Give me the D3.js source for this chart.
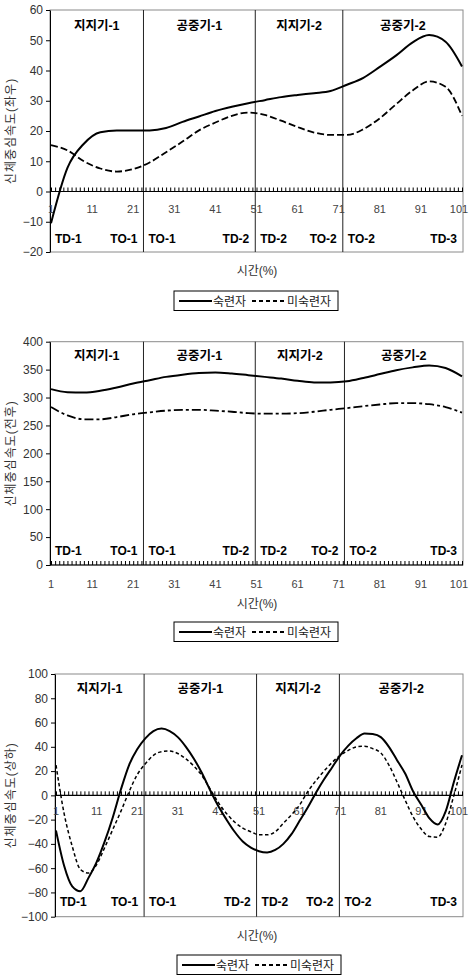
<!DOCTYPE html>
<html><head><meta charset="utf-8">
<script src="https://cdn.jsdelivr.net/npm/d3@7"></script>
<style>
body{margin:0;background:#fff}
svg{display:block}
text{font-family:"Liberation Sans","Noto Sans CJK KR",sans-serif}
</style>
</head><body>
<svg id="c" width="470" height="976"></svg>
<script>
// ---------- data ----------
const timesCoarse = [1,5,9,13,17,21,25,29,33,37,41,45,49,53,57,61,65,69,73,77,81,85,89,93,97,101];
const timesFine = [1,3,5,7,9,11,13,15,17,19,21,23,25,27,29,31,33,35,37,39,41,43,45,47,49,51,
  53,55,57,59,61,63,65,67,69,71,73,75,77,79,81,83,85,87,89,91,93,95,97,99,101];
const xTickLabels = [1,11,21,31,41,51,61,71,81,91,101];
const seriesNames = ["숙련자","미숙련자"];
const phaseNames = ["지지기-1","공중기-1","지지기-2","공중기-2"];
const eventStart = ["TD-1","TO-1","TD-2","TO-2"];
const eventEnd = ["TO-1","TD-2","TO-2","TD-3"];

// 좌우
const lrExpert = [-10.5,7.8,15.8,19.6,20.2,20.2,20.2,21.0,23.0,24.8,26.6,28.0,29.2,30.2,31.2,31.9,32.5,33.2,35.3,37.6,41.2,45.0,49.3,51.7,49.5,41.3];
const lrNovice = [15.3,13.6,10.0,7.6,6.6,7.4,9.6,13.0,16.5,20.2,22.8,25.0,26.1,25.3,23.4,21.3,19.5,18.7,18.7,20.6,24.2,28.9,33.4,36.4,34.6,25];
const lrTicks = [-20,-10,0,10,20,30,40,50,60];
const lrPhases = [23.5,50.7,72];

// 전후
const apExpert = [315,309.5,308.8,312,318,325,331,337,341,344,345,343,340,337,334,330,327,327,329,335,342,349,354,357.5,353,338];
const apNovice = [283,268,261,261,265,270,273.5,276.5,278,278,276.5,274.5,272,271,271,272,274.5,278,281,284.5,287.5,290,290,288,283,273];
const apTicks = [0,50,100,150,200,250,300,350,400];
const apPhases = [23.5,50.7,72.4];

// 상하
const vtExpert = [-29,-58,-75,-79,-68,-55,-38,-18,5,25,
  38,47,53,55,53,48,40,30,18,4,
  -9,-20,-30,-38,-43,-46,-47,-45,-40,-32,
  -21,-10,2,13,23,33,41,47,51,50.5,
  48,40,29,18,3,-8,-19,-24,-13,11,
  33];
const vtNovice = [25,-15,-42,-61,-64,-57,-43,-28,-13,3,
  17,26,33,36,36.5,34.5,30,24,16,5,
  -6,-15,-22,-27,-30,-32.5,-32.5,-30,-23,-16,
  -8,3,12,20,27,33,37,40,40.5,38.5,
  35,25,11,-4,-18,-28,-34,-34.5,-23,0,
  25];
const vtTicks = [-100,-80,-60,-40,-20,0,20,40,60,80,100];
const vtPhases = [22.7,50.4,70.8];

// ---------- layout ----------
const charts = [
  {times:timesCoarse, a:lrExpert, b:lrNovice, ticks:lrTicks, phases:lrPhases, title:"신체중심속도(좌우)",
   top:10, bottom:252, left:50, right:463, x0:51, x1:462, dash:"7,3", dashW:1.8,
   tickLabOff:21.5, phaseLabOff:19.5, eventLabOff:-9.5, xTitleY:274.5, legend:[174,291]},
  {times:timesCoarse, a:apExpert, b:apNovice, ticks:apTicks, phases:apPhases, title:"신체중심속도(전후)",
   top:341.7, bottom:565, left:50, right:463, x0:51, x1:462, dash:"9,3,3,3", dashW:1.8,
   tickLabOff:23, phaseLabOff:18.5, eventLabOff:-10.5, xTitleY:607.5, legend:[174,622]},
  {times:timesFine, a:vtExpert, b:vtNovice, ticks:vtTicks, phases:vtPhases, title:"신체중심속도(상하)",
   top:674, bottom:916.7, left:55, right:463, x0:56, x1:462, dash:"3.5,2.5", dashW:1.5,
   tickLabOff:20, phaseLabOff:19, eventLabOff:-10.5, xTitleY:939.5, legend:[177,955]}
];

const svg = d3.select("#c");

charts.forEach(cfg => {
  const g = svg.append("g");
  const x = d3.scaleLinear().domain([1,101]).range([cfg.x0, cfg.x1]);
  const y = d3.scaleLinear().domain(d3.extent(cfg.ticks)).range([cfg.bottom, cfg.top]);

  g.append("rect").attr("x",cfg.left).attr("y",cfg.top)
    .attr("width",cfg.right-cfg.left).attr("height",cfg.bottom-cfg.top)
    .attr("fill","none").attr("stroke","#8a8a8a").attr("stroke-width",1);

  g.selectAll(".ph").data(cfg.phases).join("line")
    .attr("x1",d=>x(d)).attr("x2",d=>x(d)).attr("y1",cfg.top).attr("y2",cfg.bottom)
    .attr("stroke","#222").attr("stroke-width",1);

  const ya = g.append("g").attr("transform",`translate(${cfg.left},0)`)
    .call(d3.axisLeft(y).tickValues(cfg.ticks).tickSize(4).tickPadding(3).tickSizeOuter(0));
  ya.select(".domain").attr("stroke","#000");
  ya.selectAll("line").attr("stroke","#000");
  ya.selectAll("text").attr("font-size",12).attr("fill","#333")
    .attr("font-family",'"Liberation Sans",sans-serif');

  const y0 = y(0);
  const xa = g.append("g").attr("transform",`translate(0,${y0})`)
    .call(d3.axisTop(x).tickValues(d3.range(1,102)).tickSize(4).tickFormat("").tickSizeOuter(0));
  xa.select(".domain").remove();
  xa.selectAll("line").attr("stroke","#000").attr("stroke-width",1);
  g.append("line").attr("x1",cfg.left).attr("x2",cfg.right).attr("y1",y0).attr("y2",y0)
    .attr("stroke","#000").attr("stroke-width",1.2);

  g.selectAll(".xt").data(xTickLabels).join("text")
    .attr("x",d=>Math.min(x(d), 459)).attr("y",y0+cfg.tickLabOff).attr("text-anchor","middle")
    .attr("font-size",11).attr("fill","#444").text(d=>d);

  const line = d3.line().x((d,i)=>x(cfg.times[i])).y(d=>y(d)).curve(d3.curveMonotoneX);
  g.append("path").attr("d",line(cfg.a)).attr("fill","none").attr("stroke","#000").attr("stroke-width",2);
  g.append("path").attr("d",line(cfg.b)).attr("fill","none").attr("stroke","#000")
    .attr("stroke-width",cfg.dashW).attr("stroke-dasharray",cfg.dash);

  const bounds = [cfg.left, ...cfg.phases.map(p=>x(p)), cfg.right];
  phaseNames.forEach((n,i)=>{
    g.append("text").attr("x",(bounds[i]+bounds[i+1])/2).attr("y",cfg.top+cfg.phaseLabOff)
      .attr("text-anchor","middle").attr("font-size",12.5).attr("font-weight","bold").attr("fill","#000").text(n);
    g.append("text").attr("x",bounds[i]+5).attr("y",cfg.bottom+cfg.eventLabOff)
      .attr("text-anchor","start").attr("font-size",12).attr("font-weight","bold").attr("fill","#000").text(eventStart[i]);
    g.append("text").attr("x",bounds[i+1]-6).attr("y",cfg.bottom+cfg.eventLabOff)
      .attr("text-anchor","end").attr("font-size",12).attr("font-weight","bold").attr("fill","#000").text(eventEnd[i]);
  });

  const cy = (cfg.top+cfg.bottom)/2;
  g.append("text").attr("transform",`translate(15,${cy}) rotate(-90)`).attr("text-anchor","middle")
    .attr("font-size",12).attr("letter-spacing",1).attr("fill","#333").text(cfg.title);
  g.append("text").attr("x",257).attr("y",cfg.xTitleY).attr("text-anchor","middle")
    .attr("font-size",12).attr("fill","#333").text("시간(%)");

  const [lx,ly] = cfg.legend;
  const lg = g.append("g").attr("transform",`translate(${lx},${ly})`);
  lg.append("rect").attr("width",164).attr("height",19.5).attr("fill","#fff").attr("stroke","#000").attr("stroke-width",1);
  lg.append("line").attr("x1",5).attr("x2",38).attr("y1",10).attr("y2",10).attr("stroke","#000").attr("stroke-width",2);
  lg.append("text").attr("x",39).attr("y",14.5).attr("font-size",12).attr("fill","#222").text(seriesNames[0]);
  lg.append("line").attr("x1",78).attr("x2",112).attr("y1",10).attr("y2",10).attr("stroke","#000")
    .attr("stroke-width",2).attr("stroke-dasharray","4,3");
  lg.append("text").attr("x",113).attr("y",14.5).attr("font-size",12).attr("fill","#222").text(seriesNames[1]);
});
</script>
</body></html>
